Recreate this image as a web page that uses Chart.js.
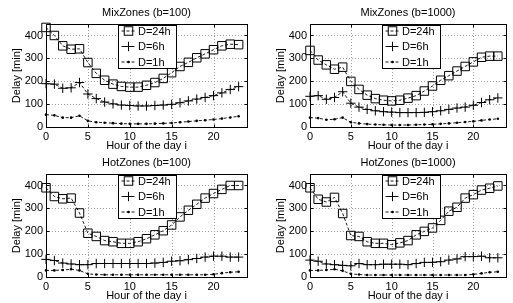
<!DOCTYPE html>
<html><head><meta charset="utf-8">
<script src="https://cdn.jsdelivr.net/npm/chart.js@4/dist/chart.umd.min.js"></script>
<style>
html,body{margin:0;padding:0;background:#fff;overflow:hidden;width:513px;height:303px;}
.p{position:absolute;}
</style></head><body>
<div class="p" style="left:0px;top:0px"><canvas id="c1" width="256" height="155"></canvas></div>
<div class="p" style="left:264px;top:0px"><canvas id="c2" width="249" height="155"></canvas></div>
<div class="p" style="left:0px;top:150px"><canvas id="c3" width="256" height="155"></canvas></div>
<div class="p" style="left:264px;top:150px"><canvas id="c4" width="249" height="155"></canvas></div>
<script>
const hours = [0,1,2,3,4,5,6,7,8,9,10,11,12,13,14,15,16,17,18,19,20,21,22,23];
const xTicks = [0,5,10,15,20];
const yTicks = [0,100,200,300,400];
const seriesNames = ['D=24h','D=6h','D=1h'];
const panelTitles = ['MixZones (b=100)','MixZones (b=1000)','HotZones (b=100)','HotZones (b=1000)'];

const mix100_24h = [435,400,355,340,342,282,235,205,188,178,175,175,183,195,213,238,265,283,303,320,338,355,362,360];
const mix100_6h  = [190,188,170,172,195,145,125,110,102,97,95,93,93,95,97,100,107,115,123,130,138,150,165,177];
const mix100_1h  = [55,52,42,42,50,28,22,20,18,16,15,15,15,16,17,19,22,25,28,31,34,38,43,48];

const mix1000_24h = [335,293,272,253,262,200,165,140,125,118,115,118,127,138,158,180,205,225,245,265,285,305,310,310];
const mix1000_6h  = [135,138,122,130,155,105,88,78,72,68,66,64,64,64,65,68,72,78,84,88,96,108,120,128];
const mix1000_1h  = [42,40,33,35,42,22,17,14,12,11,10,10,10,11,12,13,15,17,20,23,26,30,34,37];

const hot100_24h = [390,352,342,345,280,192,178,160,155,148,148,155,168,185,203,228,263,292,318,345,365,383,400,400];
const hot100_6h  = [78,73,62,58,55,55,60,60,60,60,60,60,60,62,65,70,72,77,82,88,92,92,88,88];
const hot100_1h  = [30,30,32,35,30,15,12,11,11,11,11,11,11,11,11,11,11,11,11,11,13,18,22,24];

const hot1000_24h = [390,340,328,348,278,182,178,155,148,148,142,150,160,185,200,215,248,288,305,345,360,380,388,398];
const hot1000_6h  = [75,70,58,55,52,50,60,55,55,57,57,57,55,60,65,65,68,75,80,90,90,92,85,85];
const hot1000_1h  = [30,30,32,35,28,15,12,10,10,10,10,10,10,10,10,10,10,10,10,10,13,17,22,24];

const FONT = '"Liberation Sans", Arial, Helvetica, sans-serif';
Chart.defaults.font.family = FONT;
Chart.defaults.color = '#000';

const framePlugin = {
  id: 'frame',
  beforeDatasetsDraw(chart) {
    const {ctx, chartArea: a, scales: {x, y}} = chart;
    ctx.save();
    ctx.lineWidth = 1;
    ctx.strokeStyle = '#a0a0a0';
    ctx.setLineDash([1, 2]);
    xTicks.forEach(v => {
      if (v === x.min) return;
      const px = Math.round(x.getPixelForValue(v)) + 0.5;
      ctx.beginPath(); ctx.moveTo(px, a.top); ctx.lineTo(px, a.bottom); ctx.stroke();
    });
    yTicks.forEach(v => {
      if (v === y.min) return;
      const py = Math.round(y.getPixelForValue(v)) + 0.5;
      ctx.beginPath(); ctx.moveTo(a.left, py); ctx.lineTo(a.right, py); ctx.stroke();
    });
    ctx.setLineDash([]);
    ctx.strokeStyle = '#000';
    const L = Math.round(a.left) + 0.5, T = Math.round(a.top) + 0.5;
    const R = Math.round(a.right) + 0.5, B = Math.round(a.bottom) + 0.5;
    ctx.strokeRect(L, T, R - L, B - T);
    const tl = 3;
    ctx.beginPath();
    xTicks.forEach(v => {
      const px = Math.round(x.getPixelForValue(v)) + 0.5;
      ctx.moveTo(px, B); ctx.lineTo(px, B - tl);
      ctx.moveTo(px, T); ctx.lineTo(px, T + tl);
    });
    yTicks.forEach(v => {
      const py = Math.round(y.getPixelForValue(v)) + 0.5;
      ctx.moveTo(L, py); ctx.lineTo(L + tl, py);
      ctx.moveTo(R, py); ctx.lineTo(R - tl, py);
    });
    ctx.stroke();
    ctx.restore();
  }
};

function drawMarker(ctx, style, cx, cy) {
  ctx.setLineDash([]);
  ctx.lineWidth = 1;
  ctx.strokeStyle = '#000';
  ctx.fillStyle = '#000';
  if (style === 'rect') {
    ctx.strokeRect(cx - 4.25, cy - 4.25, 8.5, 8.5);
  } else if (style === 'cross') {
    ctx.beginPath();
    ctx.moveTo(cx - 4.7, cy); ctx.lineTo(cx + 4.7, cy);
    ctx.moveTo(cx, cy - 4.7); ctx.lineTo(cx, cy + 4.7);
    ctx.stroke();
  } else {
    ctx.beginPath(); ctx.arc(cx, cy, 1.3, 0, Math.PI * 2); ctx.fill();
  }
}

const boxLegendPlugin = {
  id: 'boxLegend',
  afterDatasetsDraw(chart) {
    const {ctx, chartArea: a} = chart;
    const bx = Math.round(a.left + 72) + 0.5, by = Math.round(a.top + 1) + 0.5;
    const bw = 58, bh = 43;
    ctx.save();
    ctx.fillStyle = '#fff';
    ctx.fillRect(bx, by, bw, bh);
    ctx.strokeStyle = '#000';
    ctx.lineWidth = 1;
    ctx.strokeRect(bx, by, bw, bh);
    chart.data.datasets.forEach((ds, i) => {
      const ry = by + 5.5 + i * 15.5;
      ctx.setLineDash([3, 2]);
      ctx.lineWidth = 0.9;
      ctx.strokeStyle = '#000';
      ctx.beginPath(); ctx.moveTo(bx + 3, ry); ctx.lineTo(bx + 17, ry); ctx.stroke();
      drawMarker(ctx, ds.pointStyle, bx + 10, ry);
      ctx.fillStyle = '#000';
      ctx.font = '11px ' + FONT;
      ctx.textAlign = 'left';
      ctx.textBaseline = 'middle';
      ctx.fillText(ds.label, bx + 19.5, ry + 0.5);
    });
    ctx.restore();
  }
};

const titlePlugin = {
  id: 'panelTitle',
  afterDraw(chart, args, opts) {
    const {ctx, chartArea: a} = chart;
    ctx.save();
    ctx.fillStyle = '#000';
    ctx.font = '11px ' + FONT;
    ctx.textAlign = 'center';
    ctx.textBaseline = 'middle';
    ctx.fillText(opts.text, (a.left + a.right) / 2, 12.5);
    ctx.restore();
  }
};

function makeChart(id, title, d24, d6, d1, rightPad) {
  const toPts = arr => hours.map((h, i) => ({x: h, y: arr[i]}));
  const base = {borderColor: '#000', borderWidth: 0.9, borderDash: [3, 2], fill: false, tension: 0, clip: false,
                pointBorderColor: '#000', pointBorderWidth: 1, pointHoverRadius: 0};
  const datasets = [
    Object.assign({}, base, {label: seriesNames[0], data: toPts(d24), pointStyle: 'rect', pointRadius: 6, pointBackgroundColor: 'rgba(0,0,0,0)'}),
    Object.assign({}, base, {label: seriesNames[1], data: toPts(d6), pointStyle: 'cross', pointRadius: 4.7, pointBackgroundColor: 'rgba(0,0,0,0)'}),
    Object.assign({}, base, {label: seriesNames[2], data: toPts(d1), pointStyle: 'circle', pointRadius: 1.3, pointBorderWidth: 0, pointBackgroundColor: '#000'})
  ];
  new Chart(document.getElementById(id), {
    type: 'line',
    data: {datasets},
    options: {
      responsive: false, animation: false, devicePixelRatio: 1, events: [],
      layout: {padding: {top: 24, right: rightPad, left: 0, bottom: 0}},
      plugins: {legend: {display: false}, tooltip: {enabled: false}, panelTitle: {text: title}},
      scales: {
        x: {
          type: 'linear', min: 0, max: 24,
          afterBuildTicks: s => { s.ticks = xTicks.map(v => ({value: v})); },
          afterFit: s => { s.height = 27.7; },
          grid: {display: false, drawTicks: false},
          border: {display: false},
          ticks: {padding: 3, font: {size: 11}, color: '#000', maxRotation: 0},
          title: {display: true, text: 'Hour of the day i', font: {size: 11}, color: '#000', padding: {top: 0, bottom: 2.1}}
        },
        y: {
          type: 'linear', min: 0, max: 450,
          afterBuildTicks: s => { s.ticks = yTicks.map(v => ({value: v})); },
          afterFit: s => { s.width = 46; },
          grid: {display: false, drawTicks: false},
          border: {display: false},
          ticks: {padding: 3, font: {size: 11}, color: '#000'},
          title: {display: true, text: 'Delay [min]', font: {size: 11}, color: '#000', padding: {top: 10.6, bottom: 0}}
        }
      }
    },
    plugins: [framePlugin, boxLegendPlugin, titlePlugin]
  });
}

makeChart('c1', panelTitles[0], mix100_24h, mix100_6h, mix100_1h, 9);
makeChart('c2', panelTitles[1], mix1000_24h, mix1000_6h, mix1000_1h, 3);
makeChart('c3', panelTitles[2], hot100_24h, hot100_6h, hot100_1h, 9);
makeChart('c4', panelTitles[3], hot1000_24h, hot1000_6h, hot1000_1h, 3);
</script>
</body></html>
